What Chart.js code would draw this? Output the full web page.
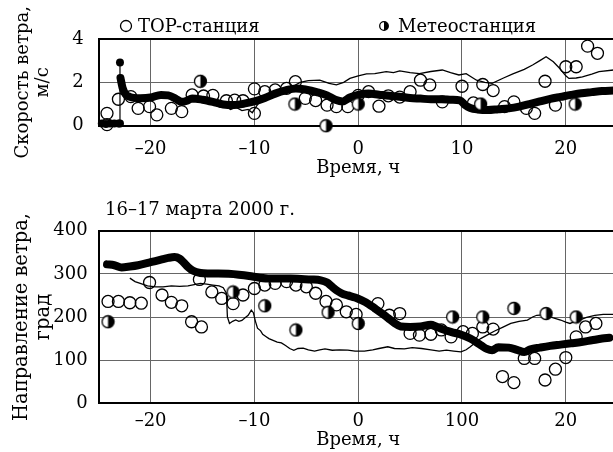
<!DOCTYPE html>
<html>
<head>
<meta charset="utf-8">
<script src="https://cdn.jsdelivr.net/npm/chart.js@4.4.0/dist/chart.umd.min.js"></script>
<style>
html, body { margin: 0; padding: 0; background: #fff; overflow: hidden; width: 613px; height: 452px; }
#speed { position: absolute; left: 0; top: 0; }
#dir { position: absolute; left: 0; top: 180px; }
</style>
</head>
<body>
<canvas id="speed" width="625" height="180"></canvas>
<canvas id="dir" width="625" height="272"></canvas>
<script>
// --- labels ---
const topName = 'TOP-станция';
const meteoName = 'Метеостанция';
const dateTitle = '16–17 марта 2000 г.';
const timeTitle = 'Время, ч';
const speedTitle = ['Скорость ветра,', 'м/с'];
const dirTitle = ['Направление ветра,', 'град'];
const xTickValues = [-20, -10, 0, 10, 20];
const speedXTickLabels = ['–20', '–10', '0', '10', '20'];
const dirXTickLabels = ['–20', '–10', '0', '100', '20'];

// --- wind speed, m/s ---
const speedTopX = [-24.2, -24.2, -23.1, -21.9, -21.2, -20.1, -19.4, -18.0, -17.0, -16.0, -14.9, -14.0, -12.7, -11.9, -11.1,
  -10.0, -10.0, -9.0, -8.0, -6.9, -6.05, -5.1, -4.1, -3.0, -2.1, -1.0, 0.0, 1.0, 2.0, 2.9, 4.0, 5.0, 6.0, 6.9, 8.1,
  10.0, 11.1, 12.0, 13.0, 14.1, 15.0, 16.2, 17.0, 18.0, 19.0, 20.0, 21.0, 22.1, 23.05];
const speedTopY = [0.57, 0.05, 1.22, 1.34, 0.8, 0.88, 0.5, 0.8, 0.65, 1.42, 1.37, 1.4, 1.15, 1.18, 1.15,
  1.7, 0.57, 1.57, 1.65, 1.72, 2.03, 1.26, 1.16, 0.95, 0.88, 0.88, 1.4, 1.57, 0.9, 1.38, 1.32, 1.57, 2.1, 1.88, 1.1,
  1.82, 1.05, 1.9, 1.62, 0.88, 1.1, 0.8, 0.57, 2.05, 0.95, 2.72, 2.72, 3.67, 3.34];

const speedMeteoX = [-15.2, -6.1, -3.1, 0.0, 11.8, 20.9];
const speedMeteoY = [2.05, 1.0, 0.0, 1.0, 1.0, 1.0];

const speedStartX = [-24.7, -24.3, -23.9, -23.5, -23.1, -22.95, -22.95];
const speedStartY = [0.1, 0.08, 0.1, 0.1, 0.1, 0.1, 2.92];

const speedModelX = [-22.9, -22.7, -22.4, -22.0, -21.0, -20.0, -19.0, -18.3, -17.5, -17.0, -16.5, -16.0, -15.0, -14.0,
  -13.0, -12.0, -11.0, -10.0, -9.0, -8.0, -7.0, -6.0, -5.0, -4.0, -3.0, -2.2, -1.5, -0.8, 0.0, 1.0, 2.0, 3.0, 4.0,
  5.0, 6.0, 7.0, 8.0, 9.0, 9.8, 10.3, 10.8, 11.5, 12.5, 13.5, 14.5, 15.5, 16.5, 17.5, 18.5, 19.5, 20.5, 21.5, 22.5,
  23.5, 24.6];
const speedModelY = [2.2, 1.75, 1.45, 1.33, 1.27, 1.3, 1.42, 1.4, 1.22, 1.1, 1.15, 1.26, 1.2, 1.1,
  0.98, 0.95, 1.02, 1.12, 1.28, 1.48, 1.63, 1.72, 1.66, 1.55, 1.4, 1.2, 1.12, 1.3, 1.42, 1.48, 1.43, 1.38, 1.34,
  1.28, 1.25, 1.22, 1.22, 1.2, 1.17, 0.95, 0.82, 0.75, 0.72, 0.76, 0.8, 0.88, 1.0, 1.12, 1.24, 1.33, 1.42, 1.5, 1.55,
  1.6, 1.62];

const speedThinX = [-14.0, -13.3, -12.8, -12.3, -11.8, -11.2, -10.6, -10.2, -9.8, -9.3, -8.5, -7.5, -6.5, -5.6, -4.8,
  -3.7, -2.8, -2.1, -1.4, -0.8, 0.0, 0.8, 1.6, 2.7, 3.4, 4.0, 5.0, 5.9, 7.0, 8.1, 8.9, 9.7, 10.4, 11.4, 12.2, 12.9,
  14.0, 14.9, 16.0, 16.8, 17.5, 18.1, 18.8, 19.4, 20.0, 20.3, 21.0, 21.6, 22.5, 23.2, 24.6];
const speedThinY = [1.0, 0.85, 0.9, 0.75, 0.85, 0.7, 0.75, 0.6, 0.9, 1.2, 1.45, 1.6, 1.75, 2.0, 2.08,
  2.1, 1.95, 1.88, 2.0, 2.18, 2.3, 2.39, 2.4, 2.49, 2.45, 2.53, 2.45, 2.4, 2.5, 2.57, 2.45, 2.34, 2.4, 2.1, 2.0, 1.96,
  2.2, 2.39, 2.6, 2.8, 3.0, 3.18, 2.95, 2.65, 2.3, 2.18, 2.2, 2.25, 2.38, 2.49, 2.57];

// --- wind direction, deg ---
const dirTopX = [-24.1, -23.1, -22.0, -20.9, -20.1, -18.9, -18.0, -17.0, -16.05, -15.1, -15.3, -14.1, -13.15, -12.05,
  -11.1, -10.0, -9.0, -8.0, -6.9, -6.0, -5.0, -4.1, -3.1, -2.1, -1.15, -0.2, 1.9, 3.0, 4.0, 5.0, 5.9, 7.0, 8.0, 8.95,
  10.1, 11.0, 12.0, 13.0, 13.9, 15.0, 16.0, 17.0, 18.0, 19.0, 20.0, 21.0, 21.9, 22.9];
const dirTopY = [236, 236, 233, 232, 280, 251, 234, 226, 189, 177, 287, 258, 243, 231,
  251, 266, 274, 278, 282, 274, 270, 255, 236, 228, 212, 206, 231, 204, 208, 162, 158, 160, 170, 154,
  166, 162, 177, 172, 62, 48, 104, 104, 54, 79, 106, 154, 177, 185];

const dirMeteoX = [-24.1, -12.05, -9.0, -6.0, -2.9, 0.0, 9.1, 12.0, 15.0, 18.1, 21.0];
const dirMeteoY = [189, 258, 226, 170, 211, 185, 200, 200, 220, 208, 200];

const dirModelX = [-24.2, -23.5, -22.8, -22.0, -21.2, -20.0, -19.0, -18.3, -17.7, -17.2, -16.8, -16.4, -15.9, -15.2,
  -14.5, -13.5, -12.5, -11.5, -10.5, -9.5, -8.5, -7.5, -6.5, -5.5, -4.5, -3.6, -3.0, -2.6, -2.1, -1.6, -1.0, -0.3,
  0.3, 1.0, 1.6, 2.3, 2.9, 3.5, 4.1, 5.0, 6.0, 7.0, 7.5, 8.0, 9.0, 9.8, 10.8, 11.8, 12.4, 12.9, 13.5, 14.5, 15.3,
  16.0, 16.6, 17.5, 18.5, 19.5, 20.5, 21.5, 22.5, 23.5, 24.2];
const dirModelY = [322, 320, 315, 317, 320, 327, 333, 337, 339, 335, 326, 316, 307, 302,
  301, 301, 300, 298, 295, 291, 289, 289, 289, 288, 287, 285, 280, 272, 262, 255, 250, 245,
  239, 230, 220, 208, 197, 186, 178, 177, 178, 182, 178, 173, 165, 160, 150, 135, 126, 123, 130, 129, 124,
  119, 125, 129, 133, 136, 139, 142, 146, 150, 152];

const dirThinX = [-22.0, -21.5, -21.0, -20.3, -19.5, -18.8, -18.0, -17.2, -16.4, -15.8, -15.2, -14.6, -14.0, -13.4,
  -13.0, -12.7, -12.6, -12.4, -12.1, -11.8, -11.5, -11.2, -10.9, -10.6, -10.3, -10.1, -9.9, -9.7, -9.4, -9.2, -8.9,
  -8.6, -8.2, -7.8, -7.4, -7.0, -6.6, -6.2, -5.8, -5.3, -4.8, -4.2, -3.7, -3.2, -2.5, -1.8, -1.0, -0.3, 0.6, 1.4,
  2.0, 2.85, 3.5, 4.45, 5.2, 6.1, 7.0, 7.8, 8.5, 9.2, 9.9, 10.4, 10.8, 11.3, 11.8, 12.5, 13.1, 13.9, 14.7, 15.5,
  16.3, 16.8, 17.2, 17.8, 18.2, 18.8, 19.5, 20.0, 20.4, 20.9, 21.3, 22.0, 22.8, 23.6, 24.6];
const dirThinY = [290, 282, 278, 272, 270, 270, 272, 271, 272, 275, 278, 276, 274, 272,
  268, 255, 200, 185, 190, 193, 190, 192, 198, 204, 216, 210, 190, 174, 168, 160, 155,
  150, 146, 142, 140, 134, 127, 123, 127, 128, 124, 121, 124, 126, 123, 124, 123, 121, 121, 124,
  127, 131, 127, 126, 129, 127, 124, 121, 123, 121, 119, 124, 131, 141, 150, 159, 167, 176, 185, 190,
  193, 200, 204, 205, 203, 198, 193, 188, 185, 190, 193, 199, 204, 206, 206];

function pts(xs, ys) {
  return xs.map((x, i) => ({ x: x, y: ys[i] }));
}

// half white / half black marker
function halfDisc(r) {
  const s = Math.ceil(2 * r + 3);
  const c = document.createElement('canvas');
  c.width = s; c.height = s;
  const g = c.getContext('2d');
  const m = s / 2;
  g.beginPath(); g.arc(m, m, r, 0, 2 * Math.PI); g.fillStyle = '#fff'; g.fill();
  g.beginPath(); g.moveTo(m, m - r); g.arc(m, m, r, -Math.PI / 2, Math.PI / 2); g.closePath();
  g.fillStyle = '#000'; g.fill();
  g.beginPath(); g.arc(m, m, r, 0, 2 * Math.PI); g.lineWidth = 1.3; g.strokeStyle = '#000'; g.stroke();
  return c;
}
const halfBig = halfDisc(6);
const halfSmall = halfDisc(4.3);

const serif = '"DejaVu Serif", serif';
Chart.defaults.font.family = serif;
Chart.defaults.font.size = 18;
Chart.defaults.color = '#000';

function circles(data) {
  return { data: data, pointStyle: 'circle', pointRadius: 6, pointBorderWidth: 1.3, pointBorderColor: '#000',
    pointBackgroundColor: 'rgba(0,0,0,0)', showLine: false, clip: false };
}
function halves(data) {
  return { data: data, pointStyle: halfBig, pointRadius: 6, showLine: false, clip: false };
}
function thickLine(data) {
  return { data: data, showLine: true, borderColor: '#000', borderWidth: 8, pointRadius: 0,
    cubicInterpolationMode: 'monotone', borderCapStyle: 'round', borderJoinStyle: 'round', clip: false };
}
function thinLine(data) {
  return { data: data, showLine: true, borderColor: '#000', borderWidth: 1.3, pointRadius: 0, clip: false };
}

function makeOptions(o) {
  return {
    responsive: false,
    animation: false,
    events: [],
    layout: { padding: { top: o.padTop, right: 6.3, bottom: 0, left: 0 } },
    plugins: { legend: { display: false }, tooltip: { enabled: false } },
    scales: {
      x: {
        type: 'linear', min: -25, max: 25,
        afterBuildTicks: s => { s.ticks = xTickValues.map(v => ({ value: v })); },
        afterFit: s => { s.height = o.xHeight; },
        grid: { color: '#666', lineWidth: 1, drawTicks: false },
        border: { color: '#000', width: 2 },
        ticks: { padding: o.xPad, font: { size: 18 }, color: '#000', maxRotation: 0,
          callback: (v, i) => o.xLabels[i] },
        title: { display: true, text: timeTitle, font: { size: 18, lineHeight: 1.2 }, color: '#000',
          padding: { top: 0, bottom: 1 } }
      },
      y: {
        min: 0, max: o.yMax,
        afterFit: s => { s.width = 98.7; },
        grid: {
          color: c => (c.tick.value === o.yMax ? '#000' : '#666'),
          lineWidth: c => (c.tick.value === o.yMax ? 2 : 1),
          drawTicks: false
        },
        border: { color: '#000', width: 2 },
        ticks: { stepSize: o.yStep, padding: o.yPad, font: { size: 18 }, color: '#000' },
        title: { display: true, text: o.yTitle, font: { size: o.yTitleSize, lineHeight: o.yTitleLine },
          color: '#000', padding: { top: o.yTitlePad, bottom: 0 } }
      }
    }
  };
}

const speedLegend = {
  id: 'speedLegend',
  afterDraw(chart) {
    const ctx = chart.ctx;
    ctx.save();
    ctx.font = '18px ' + serif;
    ctx.fillStyle = '#000';
    ctx.textBaseline = 'alphabetic';
    ctx.beginPath(); ctx.arc(126, 26, 5.5, 0, 2 * Math.PI);
    ctx.lineWidth = 1.3; ctx.strokeStyle = '#000'; ctx.stroke();
    ctx.fillText(topName, 138, 32);
    ctx.drawImage(halfSmall, 384 - halfSmall.width / 2, 26 - halfSmall.height / 2);
    ctx.fillText(meteoName, 398, 32);
    ctx.restore();
  }
};

const dirHeading = {
  id: 'dirHeading',
  afterDraw(chart) {
    const ctx = chart.ctx;
    ctx.save();
    ctx.font = '18px ' + serif;
    ctx.fillStyle = '#000';
    ctx.textBaseline = 'alphabetic';
    ctx.fillText(dateTitle, 105, 34.5);
    ctx.restore();
  }
};

new Chart(document.getElementById('speed'), {
  type: 'scatter',
  data: {
    datasets: [
      halves(pts(speedMeteoX, speedMeteoY)),
      circles(pts(speedTopX, speedTopY)),
      { data: pts(speedStartX, speedStartY), showLine: true, borderColor: '#000', borderWidth: 1.2,
        pointRadius: 4, pointBackgroundColor: '#000', pointBorderWidth: 0, clip: false },
      thinLine(pts(speedThinX, speedThinY)),
      thickLine(pts(speedModelX, speedModelY))
    ]
  },
  options: makeOptions({ padTop: 39, xHeight: 54.3, xPad: 13, xLabels: speedXTickLabels,
    yMax: 4, yStep: 2, yPad: 15, yTitle: speedTitle, yTitleSize: 18, yTitleLine: '20px', yTitlePad: 13 }),
  plugins: [speedLegend]
});

new Chart(document.getElementById('dir'), {
  type: 'scatter',
  data: {
    datasets: [
      halves(pts(dirMeteoX, dirMeteoY)),
      circles(pts(dirTopX, dirTopY)),
      thinLine(pts(dirThinX, dirThinY)),
      thickLine(pts(dirModelX, dirModelY))
    ]
  },
  options: makeOptions({ padTop: 50.7, xHeight: 48.7, xPad: 7, xLabels: dirXTickLabels,
    yMax: 400, yStep: 100, yPad: 11, yTitle: dirTitle, yTitleSize: 19.5, yTitleLine: '22px', yTitlePad: 11 }),
  plugins: [dirHeading]
});
</script>
</body>
</html>
